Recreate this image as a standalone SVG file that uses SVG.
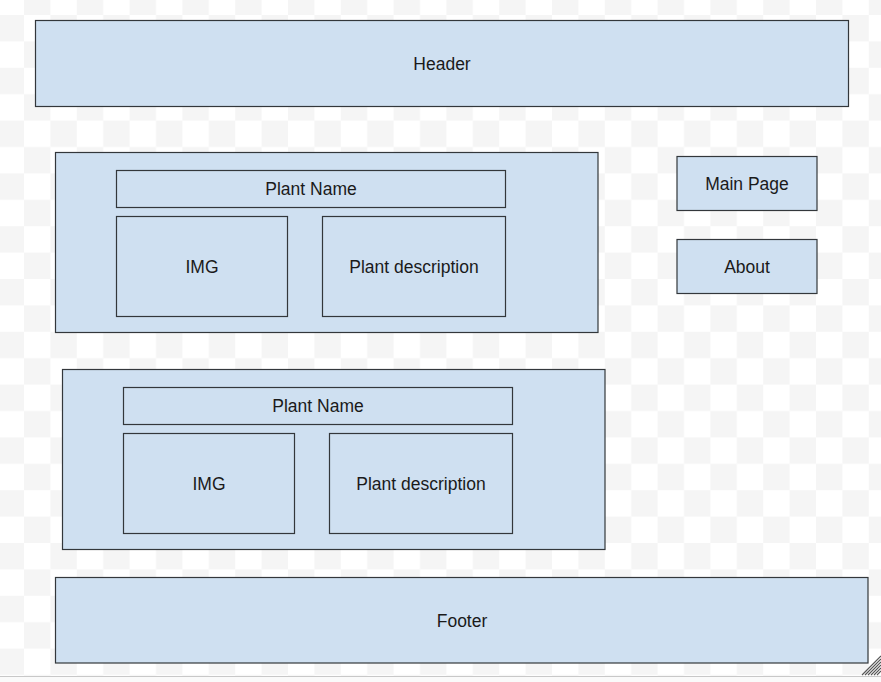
<svg xmlns="http://www.w3.org/2000/svg" width="881" height="682" viewBox="0 0 881 682">
  <defs>
    <pattern id="checker" patternUnits="userSpaceOnUse" x="24" y="15" width="52.8" height="52.8">
      <rect x="0" y="0" width="52.8" height="52.8" fill="#ffffff"/>
      <rect x="26.4" y="0" width="26.4" height="26.4" fill="#f5f5f5"/>
      <rect x="0" y="26.4" width="26.4" height="26.4" fill="#f5f5f5"/>
    </pattern>
  </defs>
  <style>
    .box { fill: #cfe0f1; stroke: #33373b; stroke-width: 1.2; }
    .lbl { font-family: "Liberation Sans", Arial, sans-serif; font-size: 17.5px; fill: #1a1a1a; text-anchor: middle; }
    .hatch { stroke: #555555; stroke-width: 1.1; }
  </style>
  <rect x="0" y="0" width="881" height="676" fill="url(#checker)"/>
  <rect x="0" y="676" width="881" height="6" fill="#fafafa"/>
  <line x1="0" y1="676.5" x2="881" y2="676.5" stroke="#c8c8c8" stroke-width="1"/>

  <g id="header">
    <rect class="box" x="35.5" y="20.5" width="813" height="86"/>
    <text class="lbl" x="442" y="70">Header</text>
  </g>

  <g id="card1">
    <rect class="box" x="55.5" y="152.5" width="542.5" height="180"/>
  </g>
  <g id="card1-name">
    <rect class="box" x="116.5" y="170.5" width="389" height="37"/>
    <text class="lbl" x="311" y="195">Plant Name</text>
  </g>
  <g id="card1-img">
    <rect class="box" x="116.5" y="216.5" width="171" height="100"/>
    <text class="lbl" x="202" y="273">IMG</text>
  </g>
  <g id="card1-desc">
    <rect class="box" x="322.5" y="216.5" width="183" height="100"/>
    <text class="lbl" x="414" y="273">Plant description</text>
  </g>

  <g id="card2">
    <rect class="box" x="62.5" y="369.5" width="542.5" height="180"/>
  </g>
  <g id="card2-name">
    <rect class="box" x="123.5" y="387.5" width="389" height="37"/>
    <text class="lbl" x="318" y="412">Plant Name</text>
  </g>
  <g id="card2-img">
    <rect class="box" x="123.5" y="433.5" width="171" height="100"/>
    <text class="lbl" x="209" y="490">IMG</text>
  </g>
  <g id="card2-desc">
    <rect class="box" x="329.5" y="433.5" width="183" height="100"/>
    <text class="lbl" x="421" y="490">Plant description</text>
  </g>

  <g id="main-page">
    <rect class="box" x="677" y="156.5" width="140" height="54"/>
    <text class="lbl" x="747" y="190">Main Page</text>
  </g>
  <g id="about">
    <rect class="box" x="677" y="239.5" width="140" height="54"/>
    <text class="lbl" x="747" y="273">About</text>
  </g>

  <g id="footer">
    <rect class="box" x="55.5" y="577.5" width="812.5" height="85.5"/>
    <text class="lbl" x="462" y="627">Footer</text>
  </g>

  <g id="connectors"/>

  <g id="resize-grip">
    <line class="hatch" x1="862" y1="675" x2="881" y2="656"/>
    <line class="hatch" x1="865" y1="675" x2="881" y2="659"/>
    <line class="hatch" x1="868" y1="675" x2="881" y2="662"/>
    <line class="hatch" x1="871" y1="675" x2="881" y2="665"/>
    <line class="hatch" x1="874" y1="675" x2="881" y2="668"/>
    <line class="hatch" x1="877" y1="675" x2="881" y2="671"/>
  </g>
</svg>
